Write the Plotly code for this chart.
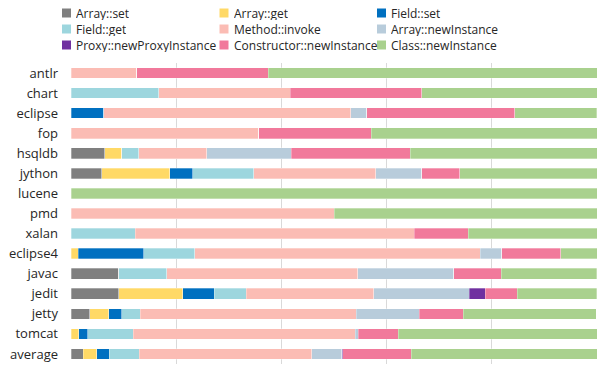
import plotly.graph_objects as go

categories = ["antlr", "chart", "eclipse", "fop", "hsqldb", "jython", "lucene", "pmd",
              "xalan", "eclipse4", "javac", "jedit", "jetty", "tomcat", "average"]

series_names = ["Array::set", "Array::get", "Field::set", "Field::get", "Method::invoke",
                "Array::newInstance", "Proxy::newProxyInstance", "Constructor::newInstance",
                "Class::newInstance"]

array_set =        [0, 0, 0, 0, 6.45, 5.8, 0, 0, 0, 0, 9.09, 9.09, 3.6, 0, 2.3]
array_get =        [0, 0, 0, 0, 3.23, 13.0, 0, 0, 0, 1.33, 0, 12.12, 3.6, 1.45, 2.6]
field_set =        [0, 0, 6.25, 0, 0, 4.35, 0, 0, 0, 12.53, 0, 6.06, 2.4, 1.75, 2.4]
field_get =        [0, 16.7, 0, 0, 3.23, 11.6, 0, 0, 12.2, 9.69, 9.09, 6.06, 3.6, 8.6, 5.7]
method_invoke =    [12.5, 25.0, 46.9, 35.7, 12.9, 23.2, 0, 50.0, 53.1, 54.23, 36.36, 24.24, 41.0, 42.2, 32.8]
array_newinst =    [0, 0, 3.1, 0, 16.1, 8.7, 0, 0, 0, 4.12, 18.18, 18.18, 12.0, 0.6, 5.7]
proxy_newinst =    [0, 0, 0, 0, 0, 0, 0, 0, 0, 0, 0, 3.03, 0, 0, 0.2]
constructor_new =  [25.0, 25.0, 28.1, 21.4, 22.6, 7.25, 0, 0, 10.2, 11.2, 9.09, 6.06, 8.4, 7.6, 13.0]
class_newinst =    [62.5, 33.3, 15.6, 42.9, 35.5, 26.1, 100.0, 50.0, 24.5, 6.9, 18.18, 15.15, 25.3, 37.8, 35.3]

series_values = [array_set, array_get, field_set, field_get, method_invoke,
                 array_newinst, proxy_newinst, constructor_new, class_newinst]

colors = ["#7f7f7f", "#ffd966", "#0070c0", "#9dd6de", "#fbbcb4",
          "#b8ccdb", "#7030a0", "#f1799b", "#a9d18e"]

FONT = "Open Sans"
TEXT_COLOR = "#262626"

W, H = 608, 368
ML, MR, MT, MB = 71, 11, 63, 4
PW, PH = W - ML - MR, H - MT - MB

fig = go.Figure()
for name, vals, col in zip(series_names, series_values, colors):
    fig.add_trace(go.Bar(
        y=categories, x=vals, name=name, orientation="h",
        marker=dict(color=col, line=dict(color="rgba(255,255,255,0.6)", width=0.5)),
        hoverinfo="x+y+name", showlegend=False,
    ))

# Legend drawn as a 3-column grid (paper coordinates derived from pixel layout)
def px_to_paper_x(px):
    return (px - ML) / PW

def px_to_paper_y(py):
    return (H - MB - py) / PH

col_x = [62, 219.5, 377]
row_y = [13, 29, 45]
box = 9
shapes = []
annotations = []
for i, (name, col) in enumerate(zip(series_names, colors)):
    r, c = divmod(i, 3)
    x0 = col_x[c]
    yc = row_y[r]
    shapes.append(dict(type="rect", xref="paper", yref="paper",
                       x0=px_to_paper_x(x0), x1=px_to_paper_x(x0 + box),
                       y0=px_to_paper_y(yc + box / 2), y1=px_to_paper_y(yc - box / 2),
                       fillcolor=col, line=dict(width=0)))
    annotations.append(dict(text=name, xref="paper", yref="paper",
                            x=px_to_paper_x(x0 + box + 4), y=px_to_paper_y(yc),
                            xanchor="left", yanchor="middle", showarrow=False,
                            height=14, borderpad=0,
                            font=dict(family=FONT, size=12, color=TEXT_COLOR)))

fig.update_layout(
    width=W, height=H,
    barmode="stack", bargap=0.47,
    plot_bgcolor="white", paper_bgcolor="white",
    margin=dict(l=ML, r=MR, t=MT, b=MB, autoexpand=False),
    font=dict(family=FONT, size=13, color=TEXT_COLOR),
    showlegend=False,
    shapes=shapes, annotations=annotations,
    xaxis=dict(range=[0, 100], dtick=20, showticklabels=False, showgrid=True,
               gridcolor="#d9d9d9", gridwidth=1, zeroline=False, showline=False, fixedrange=True),
    yaxis=dict(categoryorder="array", categoryarray=categories, autorange="reversed",
               showgrid=False, zeroline=False, showline=False,
               ticklabelstandoff=12, tickfont=dict(family=FONT, size=13, color=TEXT_COLOR)),
)

fig.write_html("out.html", config={"displayModeBar": False},
               post_script="document.body.style.margin='0';document.body.style.overflow='hidden';")
